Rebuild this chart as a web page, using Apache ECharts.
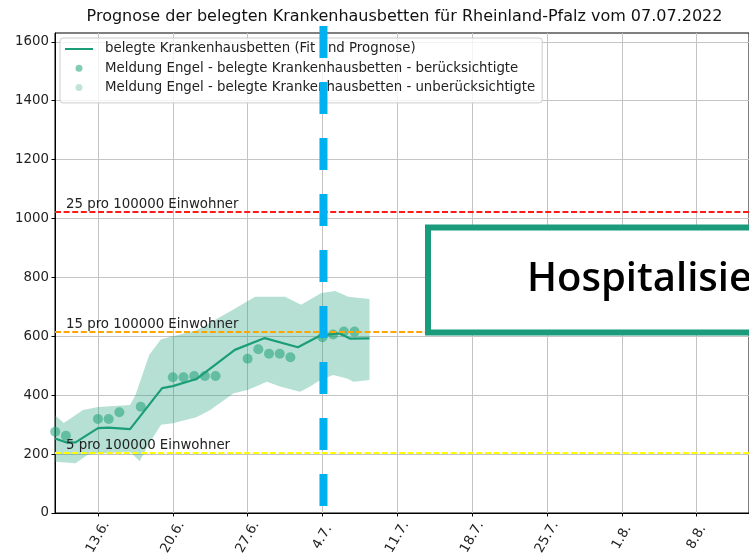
<!DOCTYPE html>
<html>
<head>
<meta charset="utf-8">
<script src="https://cdn.jsdelivr.net/npm/echarts@6/dist/echarts.min.js"></script>
<style>
  html, body { margin: 0; padding: 0; background: #ffffff; }
  #chart { width: 749px; height: 559px; }
</style>
</head>
<body>
<div id="chart"></div>
<script>
// ---- DATA (x = days since Monday 06.06.2022) ----
const titleText = 'Prognose der belegten Krankenhausbetten für Rheinland-Pfalz vom 07.07.2022';
const seriesNames = [
  'belegte Krankenhausbetten (Fit und Prognose)',
  'Meldung Engel - belegte Krankenhausbetten - berücksichtigte',
  'Meldung Engel - belegte Krankenhausbetten - unberücksichtigte'
];
const xTickDays = [7, 14, 21, 28, 35, 42, 49, 56, 63];
const xTickLabels = ['13.6.', '20.6.', '27.6.', '4.7.', '11.7.', '18.7.', '25.7.', '1.8.', '8.8.'];
const yTicks = [0, 200, 400, 600, 800, 1000, 1200, 1400, 1600];

const dotDays   = [3, 4, 7, 8, 9, 11, 14, 15, 16, 17, 18, 21, 22, 23, 24, 25, 28, 29, 30, 31];
const dotValues = [276, 262, 319, 319, 342, 361, 461, 461, 465, 465, 465, 524, 556, 541, 541, 529, 597, 606, 616, 616];

const unusedDays = [];
const unusedValues = [];

const fitDays   = [2.98, 4.0, 4.9, 7.0, 8.0, 10.0, 13.0, 14.0, 16.2, 19.8, 22.6, 25.7, 27.8, 29.6, 30.6, 32.4];
const fitValues = [253, 240, 240, 288, 290, 285, 424, 431, 455, 554, 594, 563, 603, 610, 592, 593];

const upperDays   = [2.98, 3.8, 5.6, 7, 10, 10.5, 11.8, 12.9, 14, 16.2, 19.3, 21.7, 24.5, 26, 27.9, 29.2, 30.4, 32.4];
const upperValues = [332, 306, 350, 360, 367, 400, 537, 590, 600, 620, 683, 734, 734, 707, 747, 754, 734, 727];
const lowerDays   = [2.98, 4.9, 6.0, 7.0, 10.0, 10.9, 11.8, 12.9, 14.0, 16.2, 17.5, 19.7, 21.0, 22.8, 24.1, 25.9, 26.8, 27.8, 29.0, 30.3, 30.9, 32.4];
const lowerValues = [174, 169, 197, 203, 208, 176, 237, 300, 305, 325, 350, 407, 418, 446, 429, 412, 429, 452, 469, 457, 446, 452];

const thresholdValues = [1023, 614, 205];
const thresholdLabels = ['25 pro 100000 Einwohner', '15 pro 100000 Einwohner', '5 pro 100000 Einwohner'];

const todayDay = 28; // 04.07.2022
const overlayText = 'Hospitalisierung';

// ---- STYLE ----
const FONT = 'DejaVu Sans';
const FS = 13.33;
const TEAL = '#1b9e77';
const thresholdColors = ['#ff1a1a', '#ffa500', '#ffff00'];
const X_MIN = 2.98, X_MAX = 67.9, Y_MIN = 0, Y_MAX = 1630;

const chart = echarts.init(document.getElementById('chart'), null, { renderer: 'canvas' });

const zip = (xs, ys) => xs.map((x, i) => [x, ys[i]]);

const option = {
  animation: false,
  backgroundColor: '#ffffff',
  textStyle: { fontFamily: FONT },
  grid: { left: 55, right: -5, top: 33, bottom: 46, show: true, borderColor: '#000', borderWidth: 1, backgroundColor: 'transparent' },
  legend: {
    orient: 'vertical', left: 60, top: 38,
    padding: [4.5, 7, 9, 5], itemGap: 6.2, itemWidth: 28, itemHeight: 7,
    backgroundColor: 'rgba(255,255,255,0.8)', borderColor: '#cccccc', borderWidth: 1, borderRadius: 3,
    selectedMode: false,
    textStyle: { fontFamily: FONT, fontSize: FS, color: '#222', padding: [0, 0, 0, 7] },
    data: [
      { name: seriesNames[0], icon: 'path://M0,0 L28,0 L28,2 L0,2 Z', itemStyle: { color: TEAL } },
      { name: seriesNames[1], icon: 'circle' },
      { name: seriesNames[2], icon: 'circle' }
    ],
    z: 10
  },
  xAxis: {
    type: 'value', min: X_MIN, max: X_MAX,
    axisLine: { show: true, onZero: false, lineStyle: { color: '#000', width: 1 } },
    axisTick: { show: true, length: 3.5, customValues: xTickDays, lineStyle: { color: '#000' } },
    axisLabel: {
      customValues: xTickDays,
      formatter: v => { const i = xTickDays.indexOf(Math.round(v)); return i >= 0 ? xTickLabels[i] : ''; },
      rotate: 60, align: 'center', verticalAlign: 'middle', margin: 24,
      fontFamily: FONT, fontSize: FS, color: '#222'
    },
    splitLine: { show: true, lineStyle: { color: '#c4c4c4', width: 1 } }
  },
  yAxis: {
    type: 'value', min: Y_MIN, max: Y_MAX,
    axisLine: { show: true, onZero: false, lineStyle: { color: '#000', width: 1 } },
    axisTick: { show: true, length: 3.5, customValues: yTicks, lineStyle: { color: '#000' } },
    axisLabel: { customValues: yTicks, formatter: v => String(v), margin: 6, fontFamily: FONT, fontSize: FS, color: '#222' },
    splitLine: { show: true, lineStyle: { color: '#c4c4c4', width: 1 } }
  },
  series: [
    {
      type: 'custom', name: 'band', silent: true, z: 1,
      data: [[upperDays[0], upperValues[0]]],
      renderItem: (params, api) => {
        if (params.dataIndex !== 0) return null;
        const pts = [];
        upperDays.forEach((d, i) => pts.push(api.coord([d, upperValues[i]])));
        for (let i = lowerDays.length - 1; i >= 0; i--) pts.push(api.coord([lowerDays[i], lowerValues[i]]));
        return { type: 'polygon', shape: { points: pts }, style: { fill: 'rgba(27,158,119,0.32)' } };
      }
    },
    {
      type: 'line', name: 'thresholds', data: [], z: 2, silent: true,
      markLine: {
        symbol: ['none', 'none'], silent: true, animation: false,
        data: thresholdValues.map((v, i) => ({
          yAxis: v,
          lineStyle: { color: thresholdColors[i], type: [6, 2.6], width: 2 },
          label: { show: true, position: 'insideStartTop', formatter: thresholdLabels[i], color: '#222', fontSize: FS, fontFamily: FONT, distance: [11, 1] }
        }))
      }
    },
    {
      type: 'line', name: seriesNames[0], data: zip(fitDays, fitValues), z: 3,
      symbol: 'none', showSymbol: false, lineStyle: { color: TEAL, width: 2.2 }, itemStyle: { color: TEAL }
    },
    {
      type: 'scatter', name: seriesNames[1], data: zip(dotDays, dotValues), z: 4,
      symbolSize: 10, itemStyle: { color: 'rgba(27,158,119,0.68)' }
    },
    {
      type: 'scatter', name: seriesNames[2], data: zip(unusedDays, unusedValues), z: 4,
      symbolSize: 10, itemStyle: { color: 'rgba(27,158,119,0.35)' }
    }
  ],
  graphic: [
    { id: 'title', type: 'text', x: 404.5, y: 17, z: 50,
      style: { text: titleText, fontFamily: FONT, fontSize: 16, fill: '#111', align: 'center', verticalAlign: 'middle' } },
    { id: 'box', type: 'rect', z: 100, shape: { x: 428, y: 227.5, width: 400, height: 105 },
      style: { fill: '#ffffff', stroke: '#1a9c7c', lineWidth: 6 } },
    { id: 'boxText', type: 'text', x: 527, y: 280, z: 101,
      style: { text: overlayText, fontFamily: 'Open Sans', fontWeight: 600, fontSize: 40, fill: '#000', verticalAlign: 'middle' } }
  ]
};

chart.setOption(option);

const bx = chart.convertToPixel({ xAxisIndex: 0 }, todayDay);
chart.setOption({
  graphic: [
    { id: 'today', type: 'line', z: 120, shape: { x1: bx + 1, y1: 26, x2: bx + 1, y2: 506 },
      style: { stroke: '#00b0f0', lineWidth: 8, lineDash: [32, 24], lineCap: 'butt' } }
  ]
});
</script>
</body>
</html>
